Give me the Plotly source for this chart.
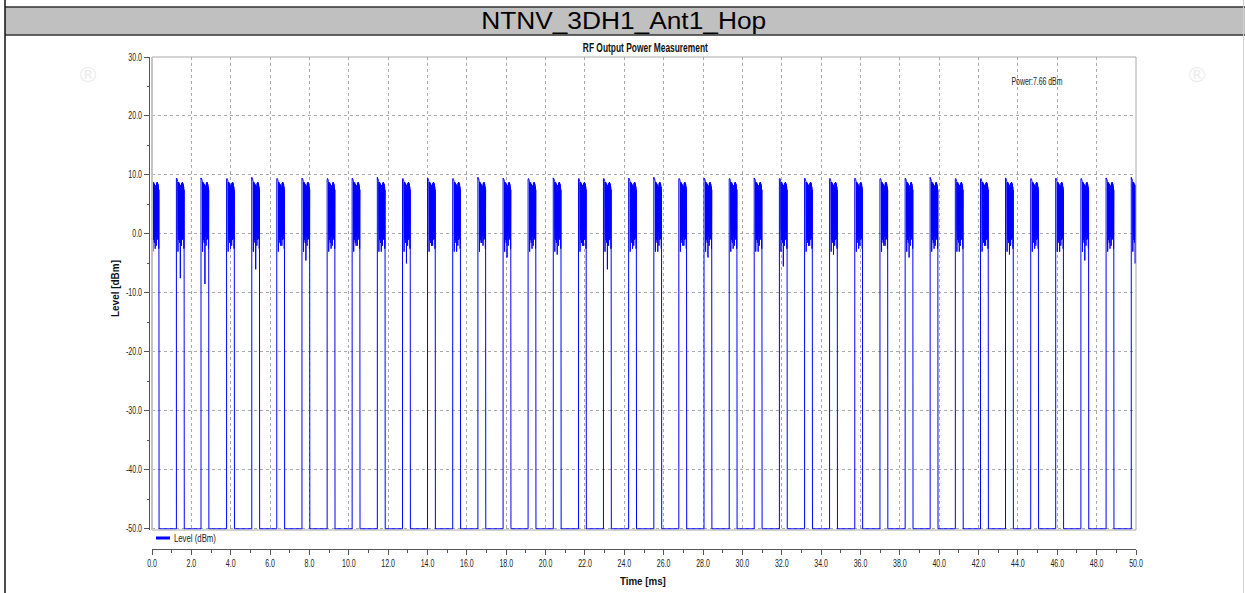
import json
import plotly.graph_objects as go

# ---- measured data -------------------------------------------------------
# Burst start times (ms) of the hopping RF output bursts
burst_start_ms = [-0.04, 1.24, 2.49, 3.79, 5.07, 6.34, 7.62, 8.90, 10.17, 11.45,
                  12.73, 14.00, 15.28, 16.56, 17.84, 19.11, 20.39, 21.67, 22.94, 24.22,
                  25.50, 26.77, 28.05, 29.33, 30.60, 31.88, 33.16, 34.43, 35.71, 36.99,
                  38.27, 39.54, 40.82, 42.10, 43.37, 44.65, 45.92, 47.20, 48.48, 49.76]

# Peak level at the start of each burst (dBm)
burst_peak_dbm = [9.3, 9.4, 9.5, 9.3, 9.6, 9.3, 9.4, 9.3, 9.4, 9.6,
                  9.3, 9.4, 9.3, 9.6, 9.4, 9.3, 9.5, 9.3, 9.3, 9.4,
                  9.6, 9.3, 9.4, 9.3, 9.5, 9.3, 9.4, 9.3, 9.4, 9.3,
                  9.4, 9.6, 9.3, 9.3, 9.5, 9.3, 9.4, 9.3, 9.5, 9.6]

# Deepest dip seen inside each burst (dBm)
burst_dip_dbm = [-2.5, -7.5, -8.5, -2.5, -6.0, -2.0, -4.5, -2.5, -2.0, -3.0,
                 -5.0, -2.0, -3.0, -1.5, -4.0, -2.5, -3.5, -2.0, -6.0, -2.5,
                 -3.0, -2.0, -4.0, -2.5, -3.0, -5.5, -2.0, -3.5, -2.5, -2.0,
                 -4.0, -2.5, -3.0, -2.0, -3.5, -2.5, -3.0, -4.5, -2.5, -5.0]

# Level samples inside one burst, 0.01 ms apart (dBm); None marks the dip sample
burst_profile_dbm = [0.0, 9.3, 9.4, 9.3, 9.3, 9.2, 9.0, 8.9,
                     -3.0, 8.8, 0.5, 8.6, -1.0, 8.7, 1.0, 8.5,
                     -1.5, 8.4, 0.0, 8.3, None, 8.2, -0.5, 8.0,
                     1.5, 7.8, -2.0, 8.6, 0.5, 8.7, -1.0, 8.8,
                     2.0, 8.6, -0.8, 8.4, 1.0, 8.0, -2.5, 7.5]
sample_step_ms = 0.01
burst_length_ms = 0.40
noise_floor_dbm = -50.0

y_ticks = [30, 20, 10, 0, -10, -20, -30, -40, -50]
x_ticks = list(range(0, 51, 2))

# ---- build the trace --------------------------------------------------------
t_ms, level_dbm = [], []
for start, peak, dip in zip(burst_start_ms, burst_peak_dbm, burst_dip_dbm):
    t_ms.append(start)
    level_dbm.append(noise_floor_dbm)
    for i, v in enumerate(burst_profile_dbm):
        if i == 0:
            v = peak
        elif v is None:
            v = dip
        t_ms.append(start + i * sample_step_ms)
        level_dbm.append(v)
    t_ms.append(start + burst_length_ms)
    level_dbm.append(noise_floor_dbm)

# ---- layout geometry (pixels) ----------------------------------------------
W, H = 1245, 593
ML, MR, MT, MB = 149, 109, 57, 44
PW, PH = W - ML - MR, H - MT - MB


def px(x):
    return (x - ML) / PW


def py(y):
    return 1 - (y - MT) / PH


FONT = "Liberation Sans, Arial, sans-serif"

fig = go.Figure()
fig.add_trace(go.Scatter(
    x=t_ms, y=level_dbm, mode="lines",
    line=dict(color="#0000ff", width=1, simplify=False),
    name="Level (dBm)", showlegend=False, hoverinfo="skip",
))
# carrier for the detached time axis
fig.add_trace(go.Scatter(x=[0, 50], y=[None, None], xaxis="x2", mode="lines",
                         showlegend=False, hoverinfo="skip"))

grid = dict(showgrid=True, gridcolor="#aaaaaa", gridwidth=1, griddash="dot")

fig.update_layout(
    width=W, height=H,
    margin=dict(l=ML, r=MR, t=MT, b=MB, pad=0),
    paper_bgcolor="white", plot_bgcolor="white",
    font=dict(family=FONT, size=10, color="#222222"),
    showlegend=False,
    xaxis=dict(range=[0, 50], domain=[px(152), 1], anchor="y",
               tickvals=x_ticks, showticklabels=False, ticks="",
               showline=False, zeroline=False, **grid),
    xaxis2=dict(range=[0, 50], domain=[px(152), 1], overlaying="x",
                anchor="free", position=0, side="bottom",
                tickvals=x_ticks, ticktext=[f"{v:.1f}" for v in x_ticks],
                ticks="outside", ticklen=5, tickcolor="#555555", tickwidth=1,
                minor=dict(dtick=1, ticks="outside", ticklen=3, tickcolor="#555555", showgrid=False),
                showline=True, linecolor="#555555", linewidth=1,
                showgrid=False, zeroline=False,
                tickfont=dict(family=FONT, size=10, color="#222222")),
    yaxis=dict(range=[-50.2, 30], domain=[py(530), 1], anchor="free", position=0,
               tickvals=y_ticks, ticktext=[f"{v:.1f}" for v in y_ticks],
               ticks="outside", ticklen=5, tickcolor="#555555", tickwidth=1,
               minor=dict(dtick=5, ticks="outside", ticklen=2, tickcolor="#555555", showgrid=False),
               showline=True, linecolor="#555555", linewidth=1, zeroline=False,
               tickfont=dict(family=FONT, size=10, color="#222222"),
               **grid),
)

shapes = [
    # plot frame
    dict(type="rect", xref="x domain", yref="y domain", x0=0, x1=1, y0=0, y1=1,
         line=dict(color="#a8a8a8", width=1), layer="above"),
    dict(type="line", xref="x domain", yref="y domain", x0=0, x1=0, y0=0, y1=1,
         line=dict(color="#c4c4c4", width=2), layer="above"),
    # header bar
    dict(type="rect", xref="paper", yref="paper", x0=px(5), x1=px(1245), y0=py(35), y1=py(7),
         fillcolor="#c0c0c0", line=dict(width=0), layer="below"),
    dict(type="line", xref="paper", yref="paper", x0=px(5), x1=px(1245), y0=py(7), y1=py(7),
         line=dict(color="#333333", width=1.5)),
    dict(type="line", xref="paper", yref="paper", x0=px(5), x1=px(1245), y0=py(35), y1=py(35),
         line=dict(color="#333333", width=1.5)),
    # outer border lines
    dict(type="line", xref="paper", yref="paper", x0=px(5), x1=px(5), y0=py(593), y1=py(0),
         line=dict(color="#111111", width=1.5)),
    dict(type="line", xref="paper", yref="paper", x0=px(1243.5), x1=px(1243.5), y0=py(593), y1=py(0),
         line=dict(color="#d0d0d0", width=1)),
    # legend swatch
    dict(type="line", xref="paper", yref="paper", x0=px(156), x1=px(170), y0=py(538), y1=py(538),
         line=dict(color="#0000ff", width=3)),
]
fig.update_layout(shapes=shapes)


def label(text, x, y, size, family=FONT, color="#222222", angle=0):
    return dict(text=text, xref="paper", yref="paper", x=px(x), y=py(y),
                showarrow=False, xanchor="center", yanchor="middle", textangle=angle,
                font=dict(family=family, size=size, color=color))


annotations = [
    label("NTNV_3DH1_Ant1_Hop", 623, 21, 23, color="#000000"),
    label("<b>RF Output Power Measurement</b>", 645, 48, 12, color="#111111"),
    label("<b>Level [dBm]</b>", 115, 289, 11, color="#111111", angle=-90),
    label("<b>Time [ms]</b>", 643, 581, 11, color="#111111"),
    label("Power:7.66 dBm", 1037, 81, 10),
    label("Level (dBm)", 195, 538, 10),
    # faint registered marks of the background logo
    label("®", 88, 74, 22, family="DejaVu Sans", color="#ececec"),
    label("®", 1197, 74, 22, family="DejaVu Sans", color="#ececec"),
]
fig.update_layout(annotations=annotations)

# Set widths (px) of the chart texts; tick labels use a narrow scale factor
text_widths = {
    "NTNV_3DH1_Ant1_Hop": 285,
    "RF Output Power Measurement": 125,
    "Level [dBm]": 57,
    "Time [ms]": 46,
    "Power:7.66 dBm": 51,
    "Level (dBm)": 42,
}
tick_scale = 0.7

post = """
var gd = document.getElementById('{plot_id}');
var widths = %s;
var tickScale = %s;
function fit(t, w) {
  t.setAttribute('textLength', w);
  t.setAttribute('lengthAdjust', 'spacingAndGlyphs');
}
gd.querySelectorAll('g.xtick text, g.x2tick text, g.ytick text').forEach(function (t) {
  fit(t, t.getComputedTextLength() * tickScale);
});
gd.querySelectorAll('text.annotation-text').forEach(function (t) {
  var w = widths[t.textContent];
  if (w) { fit(t, w); }
});
""" % (json.dumps(text_widths), tick_scale)

fig.write_html("out.html", post_script=post)
